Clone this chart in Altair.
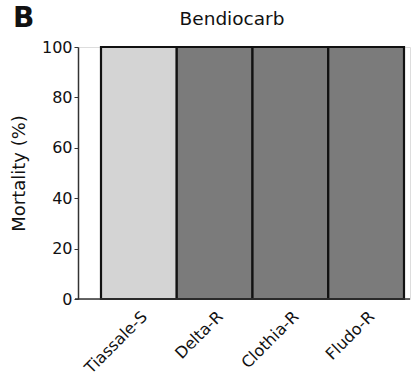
import altair as alt
import pandas as pd

strains = ["Tiassale-S", "Delta-R", "Clothia-R", "Fludo-R"]
mortality = [100, 100, 100, 100]
fill_colors = ["#d4d4d4", "#7b7b7b", "#7b7b7b", "#7b7b7b"]
panel_title = "Bendiocarb"
panel_letter = "B"

df = pd.DataFrame({"strain": strains, "mortality": mortality, "fill": fill_colors})
labels_df = pd.DataFrame({"letter": [panel_letter], "heading": [panel_title]})

W, H = 332, 252
FONT = "DejaVu Sans"
INK = "#111111"

bars = alt.Chart(df).mark_bar(stroke=INK, strokeWidth=2.2).encode(
    x=alt.X("strain:N", sort=strains,
            scale=alt.Scale(range=[23, 326], paddingInner=0, paddingOuter=0),
            axis=alt.Axis(title=None, domain=False, ticks=False, labelAngle=-45,
                          labelFontSize=16, labelFont=FONT, labelColor=INK,
                          labelPadding=9, labelAlign="right", labelBaseline="top")),
    y=alt.Y("mortality:Q", scale=alt.Scale(domain=[0, 100], nice=False),
            axis=alt.Axis(title="Mortality (%)", values=[0, 20, 40, 60, 80, 100],
                          titleFontSize=18, titleFont=FONT, titleFontWeight="normal",
                          titleColor=INK, titlePadding=13,
                          labelFontSize=16, labelFont=FONT, labelColor=INK,
                          labelPadding=2, tickSize=4, tickColor="#333333",
                          domainColor="#333333", domainWidth=1.5, grid=False)),
    fill=alt.Fill("fill:N", scale=None),
)

# x baseline running a little past the y axis to the right edge
baseline = alt.Chart(labels_df).mark_rule(color="#333333", strokeWidth=1.5).encode(
    x=alt.value(-3), x2=alt.value(W), y=alt.value(H)
)

panel = alt.Chart(labels_df).mark_text(fontSize=28, fontWeight="bold", font=FONT,
                                       align="left", baseline="alphabetic", color=INK).encode(
    text="letter:N", x=alt.value(-65), y=alt.value(-20)
)

heading = alt.Chart(labels_df).mark_text(fontSize=18.5, font=FONT, fontWeight="normal",
                                         align="center", baseline="alphabetic",
                                         color=INK).encode(
    text="heading:N", x=alt.value(154), y=alt.value(-22)
)

chart = alt.layer(bars, baseline, panel, heading).properties(
    width=W, height=H,
    autosize=alt.AutoSizeParams(type="none"),
    padding={"left": 78, "top": 47, "right": 5, "bottom": 91},
).configure_view(stroke=None).configure(background="white")

chart.save("out.html", embed_options={"renderer": "svg", "actions": False})
